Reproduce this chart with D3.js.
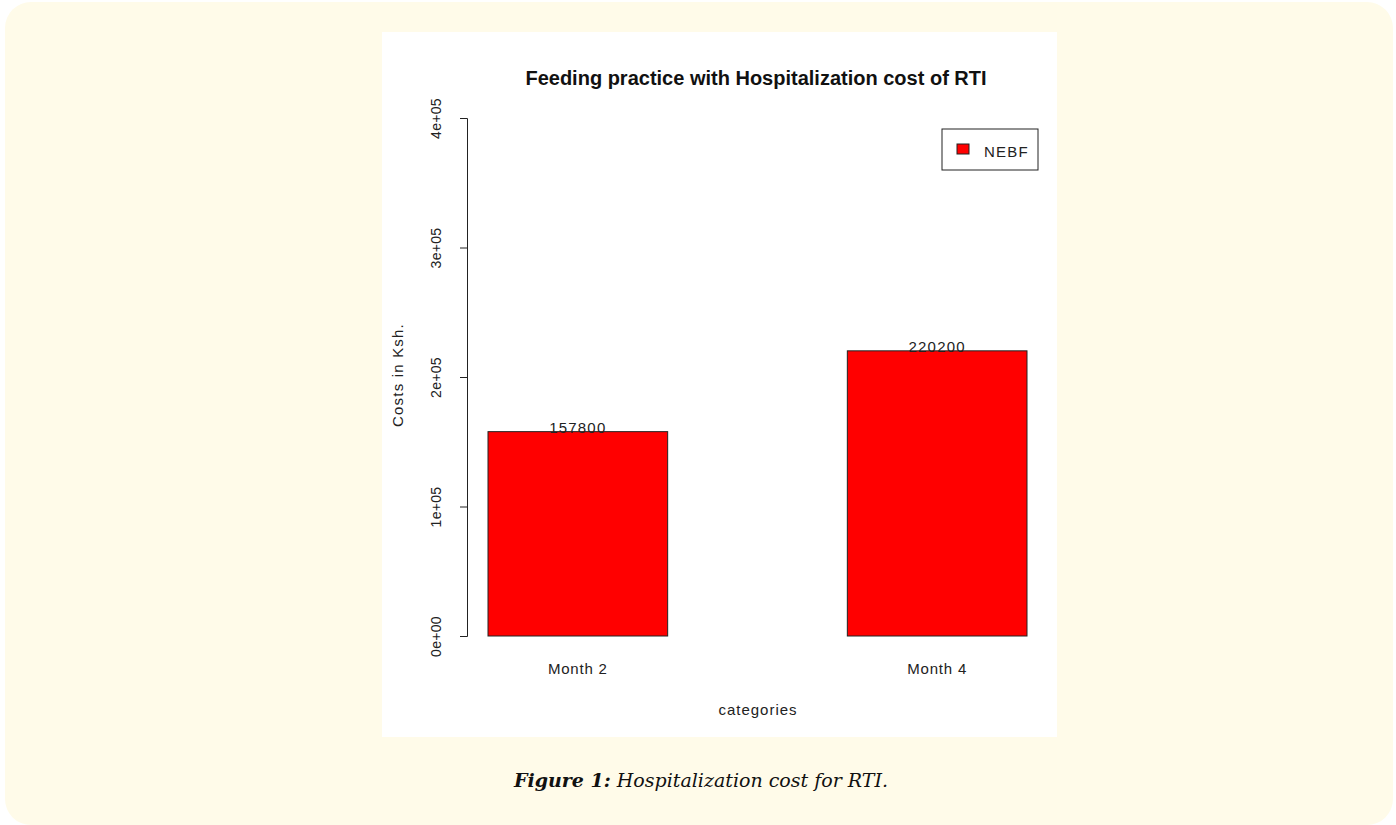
<!DOCTYPE html>
<html>
<head>
<meta charset="utf-8">
<script src="https://cdn.jsdelivr.net/npm/d3@7"></script>
<style>
  body { margin: 0; background: #ffffff; }
</style>
</head>
<body>
<svg id="chart" width="1396" height="825"></svg>
<script>
// chart data
var categories = ["Month 2", "Month 4"];
var costs = [157800, 220200];
var seriesName = "NEBF";
var yTicks = [0, 100000, 200000, 300000, 400000];
var yTickLabels = ["0e+00", "1e+05", "2e+05", "3e+05", "4e+05"];

var svg = d3.select("#chart");

// cream card behind the figure
svg.append("rect")
  .attr("x", 5).attr("y", 2)
  .attr("width", 1388).attr("height", 823)
  .attr("rx", 26).attr("ry", 26)
  .attr("fill", "#fffbe9");

// white plot panel
svg.append("rect")
  .attr("x", 382).attr("y", 32)
  .attr("width", 675).attr("height", 705)
  .attr("fill", "#ffffff");

var x = d3.scaleBand()
  .domain(categories)
  .range([488, 1027])
  .paddingInner(0.5)
  .paddingOuter(0);

var y = d3.scaleLinear()
  .domain([0, 400000])
  .range([636, 118]);

var font = "'Liberation Sans', Arial, sans-serif";
var ink = "#222";

// title
svg.append("text")
  .attr("x", 756).attr("y", 85)
  .attr("text-anchor", "middle")
  .attr("font-family", font)
  .attr("font-weight", "bold")
  .attr("font-size", 20)
  .attr("fill", "#111")
  .text("Feeding practice with Hospitalization cost of RTI");

// bars
svg.append("g")
  .selectAll("rect")
  .data(costs)
  .enter().append("rect")
    .attr("x", function(d, i) { return x(categories[i]); })
    .attr("y", function(d) { return y(d); })
    .attr("width", x.bandwidth())
    .attr("height", function(d) { return y(0) - y(d); })
    .attr("fill", "#ff0000")
    .attr("stroke", ink)
    .attr("stroke-width", 1);

// value labels
svg.append("g")
  .selectAll("text")
  .data(costs)
  .enter().append("text")
    .attr("x", function(d, i) { return x(categories[i]) + x.bandwidth() / 2; })
    .attr("y", function(d) { return y(d) + 1; })
    .attr("text-anchor", "middle")
    .attr("font-family", font)
    .attr("font-size", 15)
    .attr("letter-spacing", 1.2)
    .attr("fill", ink)
    .text(function(d) { return d; });

// y axis
var yAxis = svg.append("g")
  .attr("transform", "translate(467,0)")
  .call(d3.axisLeft(y).tickValues(yTicks).tickSize(7).tickFormat(function(d, i) { return yTickLabels[i]; }));
yAxis.select(".domain").attr("stroke", ink);
yAxis.selectAll(".tick line").attr("stroke", ink);
yAxis.selectAll(".tick text")
  .attr("font-family", font)
  .attr("font-size", 14)
  .attr("letter-spacing", 0.3)
  .attr("fill", ink)
  .attr("text-anchor", "middle")
  .attr("transform", "rotate(-90)")
  .attr("x", 0)
  .attr("dy", 0)
  .attr("y", -26);

// x category labels
svg.append("g")
  .selectAll("text")
  .data(categories)
  .enter().append("text")
    .attr("x", function(d) { return x(d) + x.bandwidth() / 2; })
    .attr("y", 674)
    .attr("text-anchor", "middle")
    .attr("font-family", font)
    .attr("font-size", 15)
    .attr("letter-spacing", 0.8)
    .attr("fill", ink)
    .text(function(d) { return d; });

// axis titles
svg.append("text")
  .attr("x", 758).attr("y", 715)
  .attr("text-anchor", "middle")
  .attr("font-family", font)
  .attr("font-size", 15)
  .attr("letter-spacing", 1)
  .attr("fill", ink)
  .text("categories");

svg.append("text")
  .attr("transform", "translate(403,375) rotate(-90)")
  .attr("text-anchor", "middle")
  .attr("font-family", font)
  .attr("font-size", 15)
  .attr("letter-spacing", 1.2)
  .attr("fill", ink)
  .text("Costs in Ksh.");

// legend
var legend = svg.append("g").attr("transform", "translate(942,129)");
legend.append("rect")
  .attr("width", 96).attr("height", 41)
  .attr("fill", "#fff").attr("stroke", ink);
legend.append("rect")
  .attr("x", 15).attr("y", 15)
  .attr("width", 12).attr("height", 10)
  .attr("fill", "#ff0000").attr("stroke", ink);
legend.append("text")
  .attr("x", 42).attr("y", 28)
  .attr("font-family", font)
  .attr("font-size", 15)
  .attr("letter-spacing", 1.2)
  .attr("fill", ink)
  .text(seriesName);

// caption
var caption = svg.append("text")
  .attr("x", 701).attr("y", 787)
  .attr("text-anchor", "middle")
  .attr("font-family", "'DejaVu Serif', 'Liberation Serif', serif")
  .attr("font-style", "italic")
  .attr("font-size", 19)
  .attr("fill", "#111");
caption.append("tspan").attr("font-weight", "bold").text("Figure 1:");
caption.append("tspan").text(" Hospitalization cost for RTI.");
</script>
</body>
</html>
